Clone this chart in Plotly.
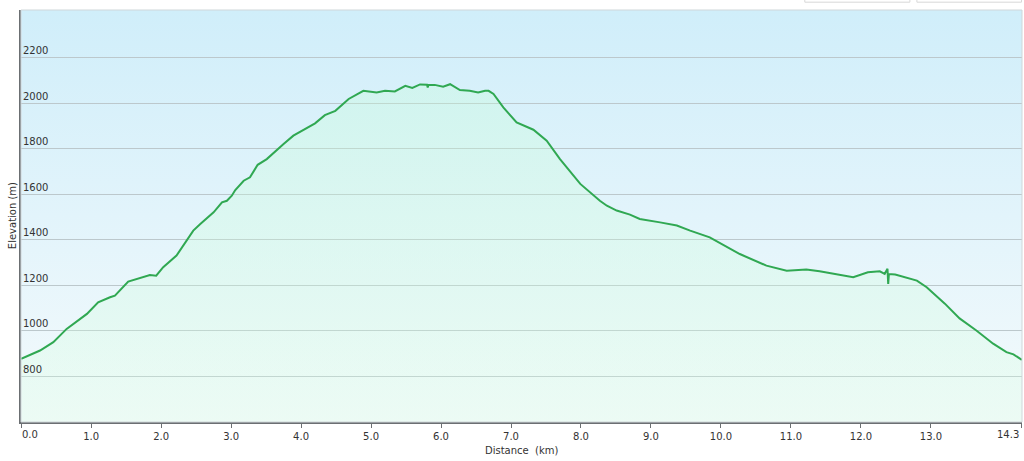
import base64
import plotly.graph_objects as go

# Distance along track (km)
distance_km = [0.00, 0.27, 0.46, 0.65, 0.94, 1.10, 1.27, 1.34, 1.53, 1.65, 1.84, 1.93, 2.03, 2.22,
               2.46, 2.56, 2.75, 2.87, 2.94, 3.01, 3.06, 3.18, 3.27, 3.38, 3.51, 3.75, 3.89, 4.20,
               4.34, 4.49, 4.68, 4.89, 5.08, 5.20, 5.34, 5.49, 5.59, 5.70, 5.80, 5.81, 5.82, 5.91,
               6.03, 6.13, 6.27, 6.41, 6.53, 6.63, 6.68, 6.75, 6.89, 7.08, 7.32, 7.51, 7.70, 7.99,
               8.13, 8.27, 8.37, 8.51, 8.70, 8.84, 9.13, 9.37, 9.56, 9.84, 10.27, 10.65, 10.94,
               11.22, 11.41, 11.70, 11.89, 12.10, 12.27, 12.34, 12.38, 12.39, 12.40, 12.49, 12.80,
               12.94, 13.08, 13.20, 13.41, 13.65, 13.89, 14.08, 14.18, 14.30]
# Elevation (m)
elevation_m = [878, 914, 951, 1009, 1075, 1126, 1148, 1155, 1217, 1229, 1246, 1243, 1280, 1331,
               1441, 1470, 1521, 1565, 1572, 1594, 1619, 1660, 1675, 1730, 1755, 1821, 1858, 1912,
               1948, 1967, 2019, 2055, 2048, 2055, 2052, 2077, 2068, 2083, 2082, 2070, 2082, 2081,
               2073, 2084, 2058, 2055, 2048, 2055, 2055, 2041, 1982, 1916, 1884, 1836, 1755, 1646,
               1609, 1572, 1550, 1529, 1511, 1492, 1477, 1463, 1441, 1411, 1338, 1287, 1265,
               1270, 1262, 1246, 1236, 1258, 1262, 1251, 1273, 1207, 1250, 1248, 1221,
               1192, 1155, 1120, 1055, 1002, 944, 907, 897, 873]

x_tick_vals = [0, 1, 2, 3, 4, 5, 6, 7, 8, 9, 10, 11, 12, 13, 14.3]
x_tick_text = ["0.0", "1.0", "2.0", "3.0", "4.0", "5.0", "6.0", "7.0", "8.0", "9.0",
               "10.0", "11.0", "12.0", "13.0", "14.3"]
y_tick_vals = [800, 1000, 1200, 1400, 1600, 1800, 2000, 2200]

x_title = "Distance  (km)"
y_title = "Elevation (m)"

# End labels are justified inside the plot width (drawn as annotations)
axis_text = [""] + x_tick_text[1:-1] + [""]

# Background gradient image for the plot area
svg = ('<svg xmlns="http://www.w3.org/2000/svg" width="100" height="100" preserveAspectRatio="none">'
       '<defs><linearGradient id="g" x1="0" y1="0" x2="0" y2="1">'
       '<stop offset="0" stop-color="rgb(208,238,250)"/>'
       '<stop offset="1" stop-color="rgb(244,250,252)"/>'
       '</linearGradient></defs><rect width="100" height="100" fill="url(#g)"/></svg>')
svg_uri = "data:image/svg+xml;base64," + base64.b64encode(svg.encode()).decode()

fig = go.Figure()
fig.add_trace(go.Scatter(
    x=distance_km, y=elevation_m, mode="lines",
    line=dict(color="rgb(48,168,82)", width=2),
    fill="tozeroy",
    fillgradient=dict(type="vertical", start=600, stop=2100,
                      colorscale=[[0, "rgba(214,255,222,0.26)"], [1, "rgba(196,255,212,0.30)"]]),
    hoverinfo="skip", showlegend=False,
))

tick_font = dict(size=10, color="#333333")
fig.update_layout(
    width=1024, height=461,
    margin=dict(l=21, r=2, t=10, b=39, autoexpand=False),
    paper_bgcolor="white",
    plot_bgcolor="rgba(0,0,0,0)",
    font=dict(family="DejaVu Sans", size=10, color="#333333"),
    images=[dict(source=svg_uri, xref="x domain", yref="y domain", x=0, y=1,
                 sizex=1, sizey=1, sizing="stretch", layer="below", xanchor="left", yanchor="top")],
    shapes=[
        dict(type="rect", xref="x domain", yref="y domain", x0=0, x1=1, y0=0, y1=1,
             line=dict(color="#cfd6d9", width=1), fillcolor="rgba(0,0,0,0)", layer="above"),
        dict(type="rect", xref="paper", yref="paper", x0=0.783, x1=0.888, y0=1.019, y1=1.06,
             line=dict(color="#d8d8d8", width=1), fillcolor="white"),
        dict(type="rect", xref="paper", yref="paper", x0=0.895, x1=0.9995, y0=1.019, y1=1.06,
             line=dict(color="#d8d8d8", width=1), fillcolor="white"),
    ],
    annotations=[
        dict(text=x_title, xref="paper", yref="paper", x=0.5, y=-0.068, showarrow=False,
             xanchor="center", yanchor="middle", font=tick_font),
        dict(text=y_title, xref="paper", yref="paper", x=-0.009, y=0.502, showarrow=False,
             xanchor="center", yanchor="middle", textangle=-90, font=tick_font),
        dict(text=x_tick_text[0], xref="x", yref="paper", x=x_tick_vals[0], y=-0.03,
             showarrow=False, xanchor="left", yanchor="middle", xshift=-1, font=tick_font),
        dict(text=x_tick_text[-1], xref="x", yref="paper", x=x_tick_vals[-1], y=-0.03,
             showarrow=False, xanchor="right", yanchor="middle", xshift=-1, font=tick_font),
    ],
    xaxis=dict(
        range=[-0.002, 14.302], tickvals=x_tick_vals, ticktext=axis_text,
        showgrid=False, zeroline=False, automargin=False,
        showline=True, linecolor="#6b6f72", linewidth=2,
        ticks="outside", ticklen=4, tickcolor="#6b6f72", tickwidth=1,
        tickfont=tick_font,
    ),
    yaxis=dict(
        range=[600, 2410], tickvals=y_tick_vals,
        ticklabelposition="inside top", ticklabeloverflow="allow",
        showgrid=True, gridcolor="#bcc8cc", gridwidth=1,
        zeroline=False, automargin=False,
        showline=True, linecolor="#6b6f72", linewidth=2,
        ticks="", tickfont=tick_font,
    ),
)

fig.write_html("out.html", config={"displayModeBar": False},
               post_script="document.body.style.margin='0';document.body.style.padding='0';")
